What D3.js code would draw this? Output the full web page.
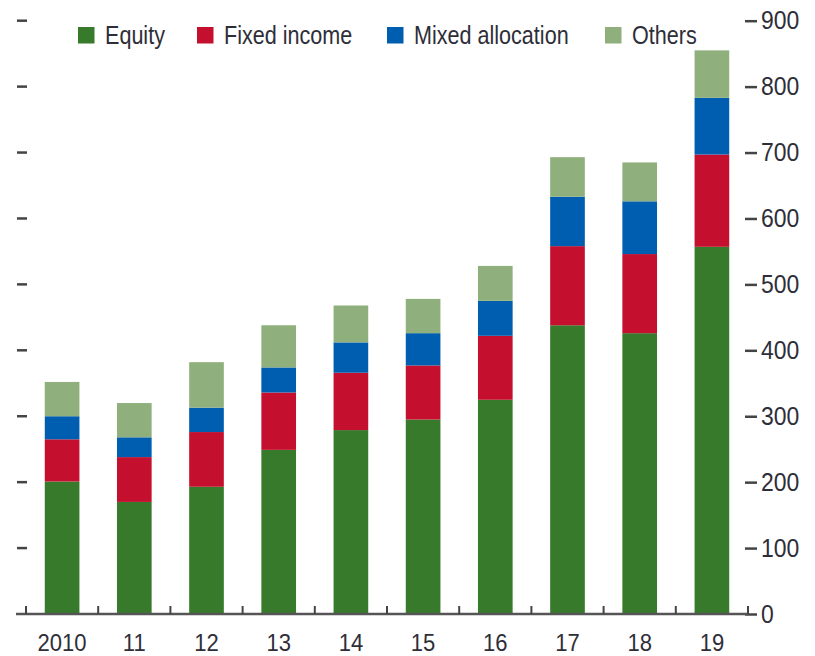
<!DOCTYPE html>
<html>
<head>
<meta charset="utf-8">
<script src="https://cdn.jsdelivr.net/npm/d3@7"></script>
<style>
  body { margin: 0; background: #fff; }
  svg { display: block; }
  text { font-family: "Liberation Sans", Arial, sans-serif; fill: #2e2e38; }
</style>
</head>
<body>
<svg id="chart" width="815" height="656"></svg>
<script>
// data
const years = ["2010", "11", "12", "13", "14", "15", "16", "17", "18", "19"];
const equity = [201, 170, 193, 249, 279, 295, 325, 438, 426, 557];
const fixedIncome = [64, 68, 83, 87, 87, 82, 97, 120, 120, 140];
const mixedAllocation = [35, 30, 37, 38, 46, 49, 53, 75, 80, 86];
const others = [52, 52, 69, 64, 56, 52, 53, 60, 59, 72];
const seriesNames = ["Equity", "Fixed income", "Mixed allocation", "Others"];
const colors = ["#377a2c", "#c4102e", "#005eb0", "#8fb07c"];
const yTicks = [0, 100, 200, 300, 400, 500, 600, 700, 800, 900];

// no condensed font installed, so squeeze the glyphs by hand
const squeeze = 0.83;
const squeezeNum = 0.9;

const svg = d3.select("#chart");

const rows = years.map((y, i) => ({
  year: y,
  "Equity": equity[i],
  "Fixed income": fixedIncome[i],
  "Mixed allocation": mixedAllocation[i],
  "Others": others[i]
}));

const x = d3.scaleBand()
  .domain(years)
  .range([26, 748])
  .paddingInner(0.52)
  .paddingOuter(0.26);

const y = d3.scaleLinear()
  .domain([0, 900])
  .range([614, 20.7]);

const color = d3.scaleOrdinal().domain(seriesNames).range(colors);

const stacked = d3.stack().keys(seriesNames)(rows);

// bars
svg.append("g")
  .selectAll("g")
  .data(stacked)
  .join("g")
  .attr("fill", d => color(d.key))
  .selectAll("rect")
  .data(d => d)
  .join("rect")
  .attr("x", d => x(d.data.year))
  .attr("width", x.bandwidth())
  .attr("y", d => y(d[1]))
  .attr("height", d => y(d[0]) - y(d[1]));

// left ticks, no labels
svg.append("g")
  .selectAll("line")
  .data(yTicks.slice(1))
  .join("line")
  .attr("x1", 17).attr("x2", 27)
  .attr("y1", d => y(d)).attr("y2", d => y(d))
  .attr("stroke", "#444")
  .attr("stroke-width", 2.5);

// right axis
const right = svg.append("g")
  .attr("transform", "translate(745,0)")
  .call(d3.axisRight(y).tickValues(yTicks).tickSize(12).tickPadding(4));
right.select(".domain").remove();
right.selectAll(".tick line").attr("stroke", "#444").attr("stroke-width", 2.5);
right.selectAll(".tick text")
  .attr("font-size", 25.5)
  .attr("font-family", null)
  .attr("fill", null)
  .attr("x", 0)
  .attr("transform", `translate(16,0) scale(${squeezeNum},1)`);

// x axis baseline
const step = x.step();
const bounds = years.map(yr => x(yr) - step * x.paddingInner() / 2).concat([748]);
svg.append("line")
  .attr("x1", 16).attr("x2", 748)
  .attr("y1", y(0)).attr("y2", y(0))
  .attr("stroke", "#555")
  .attr("stroke-width", 2.5);
svg.append("g")
  .selectAll("line")
  .data(bounds)
  .join("line")
  .attr("x1", d => d).attr("x2", d => d)
  .attr("y1", y(0)).attr("y2", y(0) - 8)
  .attr("stroke", "#444")
  .attr("stroke-width", 2);

svg.append("g")
  .selectAll("text")
  .data(years)
  .join("text")
  .attr("transform", d => `translate(${x(d) + x.bandwidth() / 2},650.5) scale(${squeezeNum},1)`)
  .attr("text-anchor", "middle")
  .attr("font-size", 24.5)
  .text(d => d);

// legend
const legendX = [78, 197, 387, 605];
const legend = svg.append("g")
  .selectAll("g")
  .data(seriesNames)
  .join("g")
  .attr("transform", (d, i) => `translate(${legendX[i]},0)`);
legend.append("rect")
  .attr("x", 0).attr("y", 27)
  .attr("width", 16.5).attr("height", 16.5)
  .attr("fill", d => color(d));
legend.append("text")
  .attr("transform", `translate(27,43.5) scale(${squeeze},1)`)
  .attr("font-size", 26)
  .text(d => d);
</script>
</body>
</html>
